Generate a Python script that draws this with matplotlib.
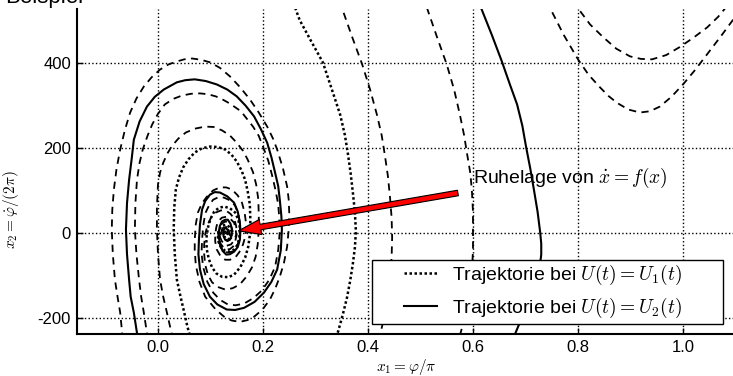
import matplotlib
matplotlib.use('Agg')
import matplotlib.pyplot as plt
from matplotlib.lines import Line2D
from matplotlib.patches import Rectangle

plt.rcParams['font.family'] = ['Liberation Sans', 'DejaVu Sans']
plt.rcParams['mathtext.fontset'] = 'cm'
plt.rcParams['axes.unicode_minus'] = False

# trajectories, x1 = phi/pi, x2 = phidot/(2pi)
# U2, solid: big spiral into the rest point
u2_spiral_x = [-0.038, -0.046, -0.052, -0.055, -0.059, -0.061, -0.059, -0.055, -0.050, -0.046,
               -0.035, -0.021, -0.006, 0.011, 0.036, 0.052, 0.070, 0.091, 0.112, 0.132,
               0.150, 0.167, 0.183, 0.196, 0.208, 0.216, 0.223, 0.229, 0.232, 0.235,
               0.236, 0.234, 0.227, 0.216, 0.202, 0.184, 0.164, 0.147, 0.131, 0.113,
               0.099, 0.087, 0.080, 0.077, 0.078, 0.080, 0.084, 0.090, 0.099, 0.108,
               0.118, 0.132, 0.145, 0.152, 0.156, 0.157, 0.156, 0.152, 0.145, 0.137,
               0.130, 0.123, 0.118, 0.116, 0.116, 0.118, 0.122, 0.128, 0.133, 0.138,
               0.141, 0.140, 0.137, 0.132, 0.128, 0.125, 0.124, 0.126, 0.130, 0.133,
               0.132, 0.130]
u2_spiral_y = [-251, -187, -150, -110, -50, 8, 70, 125, 175, 219,
               262, 297, 320, 337, 354, 359, 361, 357, 349, 337,
               321, 299, 274, 244, 212, 178, 142, 110, 78, 40,
               8, -40, -86, -115, -140, -162, -176, -181, -180, -168,
               -150, -120, -86, -50, -16, 20, 55, 75, 90, 96,
               95, 86, 71, 50, 24, 5, -16, -33, -44, -50,
               -51, -42, -27, -10, 3, 17, 27, 31, 31, 22,
               8, -5, -16, -19, -16, -8, 1, 9, 12, 6,
               -2, 0]
# U2, solid: branch on the right
u2_right_x = [0.615, 0.636, 0.655, 0.670, 0.684, 0.694, 0.701, 0.709, 0.716, 0.723,
              0.728, 0.730, 0.730, 0.727, 0.722, 0.714, 0.705, 0.695, 0.686, 0.676]
u2_right_y = [530, 465, 403, 350, 302, 252, 203, 152, 102, 50,
              1, -25, -51, -80, -110, -140, -165, -195, -220, -250]

# U1, dotted
u1_spiral_x = [0.063, 0.056, 0.050, 0.043, 0.036, 0.032, 0.030, 0.031, 0.034, 0.040,
               0.048, 0.058, 0.070, 0.084, 0.099, 0.114, 0.128, 0.140, 0.150, 0.159,
               0.166, 0.171, 0.175, 0.176, 0.175, 0.172, 0.166, 0.157, 0.145, 0.134,
               0.122, 0.111, 0.103, 0.097, 0.093, 0.092, 0.095, 0.100, 0.107, 0.116,
               0.126, 0.137, 0.147, 0.153, 0.156, 0.155, 0.152, 0.145, 0.137, 0.128,
               0.120, 0.115, 0.114, 0.116, 0.122, 0.129, 0.135, 0.140, 0.141, 0.138,
               0.133, 0.128, 0.126]
u1_spiral_y = [-251, -220, -187, -150, -110, -50, 8, 60, 102, 130,
               154, 173, 189, 199, 203, 202, 196, 184, 168, 147,
               125, 97, 67, 30, -4, -32, -58, -80, -98, -104,
               -103, -95, -81, -62, -39, -14, 12, 33, 50, 59,
               62, 58, 48, 31, 12, -9, -27, -39, -44, -42,
               -34, -20, -6, 8, 17, 19, 15, 6, -2, -11,
               -16, -13, -5]
u1_right_x = [0.258, 0.270, 0.292, 0.314, 0.331, 0.347, 0.356, 0.362, 0.367, 0.371,
              0.375, 0.377, 0.375, 0.371, 0.366, 0.360, 0.352, 0.343, 0.337]
u1_right_y = [540, 500, 450, 401, 338, 278, 230, 184, 140, 97,
              50, 3, -35, -74, -113, -152, -192, -232, -251]

# further trajectories, dashed
dash_e_x = [-0.067, -0.072, -0.077, -0.082, -0.086, -0.088, -0.087, -0.084, -0.079, -0.072,
            -0.063, -0.053, -0.041, -0.027, -0.012, 0.004, 0.020, 0.036, 0.050, 0.065,
            0.082, 0.099, 0.118, 0.137, 0.156, 0.175, 0.192, 0.208, 0.219, 0.227,
            0.238, 0.246, 0.249, 0.250, 0.249, 0.246, 0.240, 0.232, 0.223, 0.213,
            0.199, 0.183, 0.170, 0.156, 0.141, 0.128, 0.110, 0.090, 0.079, 0.072,
            0.070, 0.070, 0.072, 0.076, 0.084, 0.093, 0.105, 0.118, 0.130, 0.141,
            0.152, 0.160, 0.165, 0.168, 0.167, 0.162, 0.155, 0.147, 0.137, 0.128,
            0.118, 0.112, 0.109, 0.109, 0.111, 0.114, 0.122, 0.130, 0.138, 0.145,
            0.148, 0.149, 0.145, 0.139, 0.131, 0.126, 0.121, 0.118, 0.119, 0.124,
            0.130, 0.134, 0.134, 0.131]
dash_e_y = [-251, -187, -150, -110, -50, 8, 55, 102, 150, 196,
            242, 283, 316, 344, 366, 384, 396, 403, 408, 410,
            407, 401, 388, 368, 343, 314, 283, 250, 222, 196,
            152, 109, 78, 48, 8, -32, -70, -103, -132, -157,
            -180, -197, -205, -209, -206, -199, -180, -150, -115, -75,
            -40, -16, 20, 48, 70, 85, 100, 107, 107, 102,
            88, 71, 48, 20, -5, -27, -45, -58, -63, -63,
            -52, -39, -20, -4, 13, 27, 36, 38, 33, 24,
            10, -4, -18, -27, -30, -27, -18, -9, 3, 12,
            14, 6, -2, -4]
dash_g_x = [-0.019, -0.027, -0.032, -0.036, -0.041, -0.044, -0.043, -0.040, -0.035, -0.029,
            -0.020, -0.011, 0.000, 0.013, 0.029, 0.046, 0.063, 0.080, 0.095, 0.110,
            0.124, 0.137, 0.158, 0.181, 0.192, 0.200, 0.210, 0.217, 0.224, 0.229,
            0.231, 0.232, 0.229, 0.223, 0.212, 0.198, 0.182, 0.164, 0.148, 0.133,
            0.118, 0.105, 0.094, 0.086, 0.083, 0.084, 0.086, 0.090, 0.097, 0.105,
            0.115, 0.126, 0.138, 0.147, 0.153, 0.156, 0.156, 0.154, 0.149, 0.141,
            0.133, 0.126, 0.120, 0.116, 0.115, 0.116, 0.120, 0.128, 0.135, 0.139,
            0.142, 0.143, 0.139, 0.133, 0.128, 0.125, 0.126, 0.130]
dash_g_y = [-251, -187, -150, -110, -50, 8, 70, 125, 165, 196,
            228, 255, 280, 302, 315, 323, 327, 328, 326, 321,
            313, 304, 286, 250, 228, 203, 170, 137, 100, 67,
            35, 3, -40, -80, -110, -135, -153, -166, -170, -168,
            -157, -140, -115, -80, -48, -16, 15, 46, 64, 78,
            84, 83, 76, 64, 45, 24, 0, -20, -34, -44,
            -46, -44, -34, -20, -5, 8, 20, 27, 24, 17,
            5, -4, -13, -18, -14, -6, 2, 4]
dash_h_x = [0.029, 0.023, 0.017, 0.010, 0.004, 0.000, -0.002, -0.002, 0.000, 0.004,
            0.010, 0.018, 0.027, 0.039, 0.053, 0.070, 0.090, 0.106, 0.122, 0.137,
            0.150, 0.162, 0.171, 0.181, 0.187, 0.191, 0.192, 0.192, 0.190, 0.186,
            0.179, 0.169, 0.156, 0.142, 0.128, 0.114, 0.103, 0.095, 0.090, 0.088,
            0.088, 0.090, 0.095, 0.101, 0.110, 0.120, 0.130, 0.138, 0.145, 0.149,
            0.150, 0.147, 0.143, 0.137, 0.130, 0.124, 0.118, 0.118, 0.120, 0.124,
            0.130, 0.135, 0.137, 0.134, 0.131]
dash_h_y = [-251, -220, -187, -150, -110, -50, 8, 60, 114, 142,
            165, 187, 205, 222, 236, 245, 250, 249, 241, 229,
            212, 193, 172, 143, 114, 80, 43, 8, -27, -56,
            -81, -102, -121, -130, -133, -127, -116, -98, -75, -50,
            -27, -2, 20, 36, 48, 53, 52, 45, 34, 16,
            -4, -20, -32, -38, -39, -33, -23, -10, 1, 9,
            12, 6, -4, -11, -13]
dash_a_x = [0.345, 0.350, 0.370, 0.389, 0.404, 0.417, 0.426, 0.432, 0.438, 0.442,
            0.445, 0.446, 0.445, 0.442, 0.436, 0.429, 0.421]
dash_a_y = [545, 530, 460, 396, 337, 278, 230, 184, 133, 83,
            36, -11, -58, -105, -157, -208, -250]
dash_b_x = [0.512, 0.531, 0.550, 0.564, 0.575, 0.583, 0.589, 0.595, 0.598, 0.600,
            0.600, 0.600, 0.598, 0.594, 0.589, 0.582, 0.573]
dash_b_y = [530, 462, 396, 337, 278, 230, 184, 140, 97, 50,
            3, -42, -86, -128, -168, -210, -250]
dash_c_x = [0.790, 0.800, 0.823, 0.848, 0.873, 0.899, 0.920, 0.941, 0.968, 0.994,
            1.020, 1.046, 1.067, 1.085]
dash_c_y = [545, 528, 490, 460, 433, 415, 409, 408, 418, 437,
            459, 483, 508, 535]
dash_d_x = [0.740, 0.747, 0.773, 0.800, 0.820, 0.842, 0.858, 0.874, 0.896, 0.918,
            0.937, 0.956, 0.978, 1.000, 1.023, 1.046, 1.072, 1.099]
dash_d_y = [545, 528, 465, 408, 372, 342, 322, 306, 290, 283,
            286, 297, 320, 349, 383, 420, 462, 507]

rest_point = (0.13, 0)
x_ticks = [0.0, 0.2, 0.4, 0.6, 0.8, 1.0]
y_ticks = [-200, 0, 200, 400]

fig = plt.figure(figsize=(7.33, 3.76), dpi=100)
ax = fig.add_axes([76.6 / 733, 42 / 376, 658.9 / 733, 325.3 / 376])

dashed = dict(color='black', lw=1.3, linestyle=(0, (4, 3)))
for xs, ys in [(dash_e_x, dash_e_y), (dash_g_x, dash_g_y), (dash_h_x, dash_h_y),
               (dash_a_x, dash_a_y), (dash_b_x, dash_b_y),
               (dash_c_x, dash_c_y), (dash_d_x, dash_d_y)]:
    ax.plot(xs, ys, **dashed)

dotted = dict(color='black', lw=1.8, linestyle=(0, (1, 1)))
ax.plot(u1_spiral_x, u1_spiral_y, **dotted)
ax.plot(u1_right_x, u1_right_y, **dotted)

ax.plot(u2_spiral_x, u2_spiral_y, color='black', lw=1.5)
ax.plot(u2_right_x, u2_right_y, color='black', lw=1.5)

ax.annotate(r'Ruhelage von $\dot{x} = f(x)$', xy=rest_point, xytext=(0.6, 100),
            va='bottom', fontsize=14,
            arrowprops=dict(facecolor='red', edgecolor='black', lw=0.8,
                            width=4, headwidth=11, headlength=16, shrink=0.05))

ax.set_xlim(-0.155, 1.1)
ax.set_ylim(-237.5, 527)
ax.set_xticks(x_ticks)
ax.set_yticks(y_ticks)
ax.set_xticklabels(['%.1f' % v for v in x_ticks])
ax.tick_params(direction='in', length=4, width=1, labelsize=12, pad=4)
ax.grid(True, linestyle=':', color='black', lw=1)
ax.set_axisbelow(True)
for s in ['top', 'right']:
    ax.spines[s].set_visible(False)
for s in ['left', 'bottom']:
    ax.spines[s].set_linewidth(1.5)

ax.set_xlabel(r'$x_1 = \varphi/\pi$', fontsize=11, labelpad=2)
ax.set_ylabel(r'$x_2 = \dot{\varphi}/(2\pi)$', fontsize=11)
ax.yaxis.set_label_coords(-0.084, 0.382)

# legend frame is wider than its content in the reference
ax.add_patch(Rectangle((0.448, 0.031), 0.533, 0.197, transform=ax.transAxes,
                       facecolor='white', edgecolor='black', lw=1, zorder=4.5))
handles = [Line2D([], [], **dotted), Line2D([], [], color='black', lw=1.5)]
labels = [r'Trajektorie bei $U(t) = U_1(t)$', r'Trajektorie bei $U(t) = U_2(t)$']
ax.legend(handles, labels, loc='center', bbox_to_anchor=(0.708, 0.130),
          frameon=False, fontsize=14, handlelength=1.7, handletextpad=0.75,
          labelspacing=0.45)

fig.text(5 / 733, 1 - 3 / 376, 'Beispiel', fontsize=16, va='baseline')

fig.savefig('out.png', dpi=100)
